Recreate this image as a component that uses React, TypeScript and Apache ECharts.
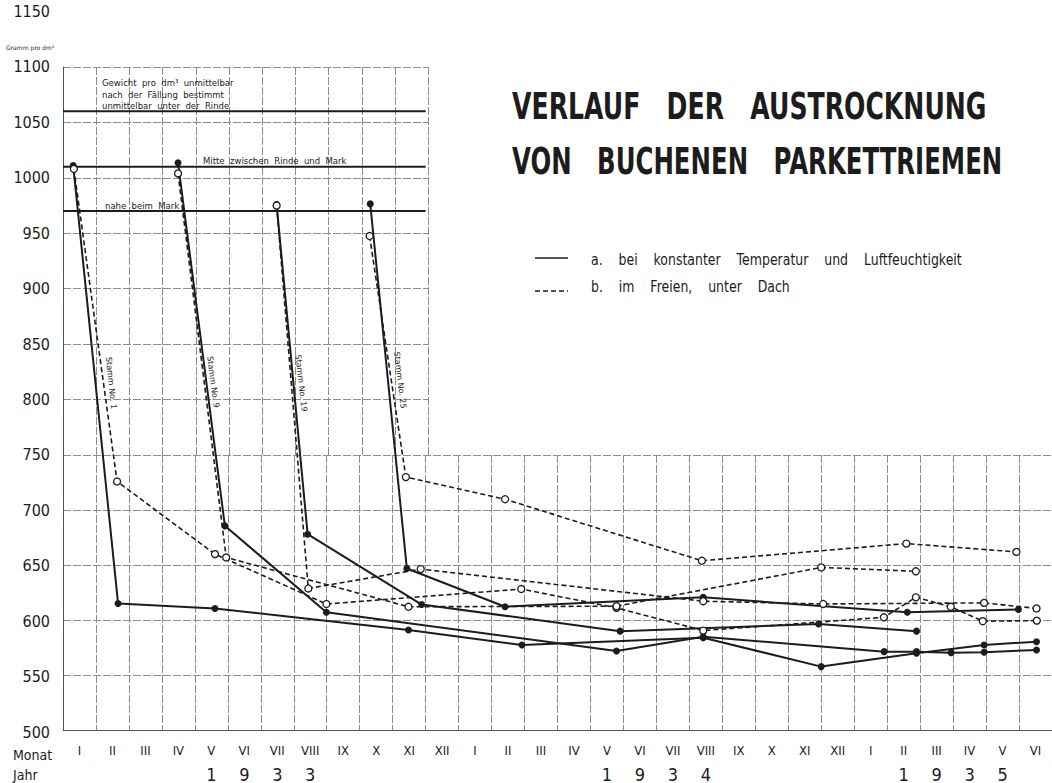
import React, { useEffect, useRef } from "react";
import * as echarts from "echarts";

// ---------- data ----------
const monthLabels = [
  "I", "II", "III", "IV", "V", "VI", "VII", "VIII", "IX", "X", "XI", "XII",
  "I", "II", "III", "IV", "V", "VI", "VII", "VIII", "IX", "X", "XI", "XII",
  "I", "II", "III", "IV", "V", "VI",
];
const yearDigits = [
  "", "", "", "", "1", "9", "3", "3", "", "", "", "",
  "", "", "", "", "1", "9", "3", "4", "", "", "", "",
  "", "1", "9", "3", "5", "",
];
const yTicks = { min: 500, max: 1150, step: 50 };
const refLevels = [1060, 1010, 970];

// x = months since start of Jan 1933, y = grams per dm³
// a. bei konstanter Temperatur und Luftfeuchtigkeit (solid)
const stamm1A = [[0.31, 1011], [1.67, 616], [4.61, 611.5], [10.48, 592], [13.92, 578.5], [19.42, 585], [23.0, 559], [25.89, 571], [27.94, 578.5], [29.53, 581.5]];
const stamm9A = [[3.49, 1013.5], [4.91, 686], [7.99, 608], [16.79, 573], [19.42, 586], [24.91, 572.5], [25.89, 572.5], [26.94, 571.6], [27.94, 572], [29.53, 574]];
const stamm19A = [[6.48, 976], [7.42, 678.5], [10.88, 615], [16.9, 591], [22.92, 597.5], [25.89, 591]];
const stamm25A = [[9.32, 976.5], [10.43, 647.5], [13.41, 613], [19.42, 621.5], [25.61, 608], [28.98, 610.5]];
// b. im Freien, unter Dach (dashed)
const stamm1B = [[0.33, 1008], [1.64, 726], [4.61, 660.5], [7.99, 615.5], [13.9, 629], [16.79, 612], [19.42, 591.5], [24.9, 603.5], [25.87, 621.5], [26.93, 613], [27.9, 600], [29.54, 600.5]];
const stamm9B = [[3.49, 1004], [4.95, 657.5], [10.48, 613], [16.79, 613.5], [23.0, 648.5], [25.87, 645]];
const stamm19B = [[6.48, 975], [7.44, 629.5], [10.85, 647], [19.42, 618], [23.06, 615.5], [27.94, 616.5], [29.53, 611.5]];
const stamm25B = [[9.3, 947.5], [10.4, 730], [13.41, 710], [19.38, 654.5], [25.58, 670], [28.92, 662.5]];

// ---------- styles ----------
const INK = "#1c1c1c";
const GRIDC = "#8c8c8c";
const NARROW = "'Liberation Sans Narrow', 'DejaVu Sans Condensed', 'Liberation Sans', sans-serif";
const SANS = "'DejaVu Sans', sans-serif";

const splitStyle = { color: GRIDC, width: 1, type: [8, 2] as any };

const solid = (name: string, data: number[][]) => ({
  type: "line", name, xAxisIndex: 0, yAxisIndex: 0, data,
  symbol: "circle", symbolSize: 7, z: 4,
  lineStyle: { color: INK, width: 2 },
  itemStyle: { color: INK },
});
const dashed = (name: string, data: number[][]) => ({
  type: "line", name, xAxisIndex: 0, yAxisIndex: 0, data,
  symbol: "circle", symbolSize: 7, z: 5,
  lineStyle: { color: INK, width: 1.6, type: [5, 3] },
  itemStyle: { color: "#fff", borderColor: INK, borderWidth: 1.3 },
});

const txt = (x: number, y: number, text: string, fontSize: number, extra: any = {}) => ({
  type: "text", x, y, z: 10, ...extra,
  style: {
    text, fill: INK, fontSize, fontFamily: extra.fontFamily || SANS,
    fontWeight: extra.fontWeight || "normal",
    textAlign: extra.align || "left", align: extra.align || "left",
    textVerticalAlign: "middle", verticalAlign: "middle",
  },
});

const option: any = {
  animation: false,
  backgroundColor: "#fff",
  grid: [
    { left: 63, top: 11.58, width: 996, height: 720.42 },
    { left: 63, top: 454.92, width: 996, height: 277.08 },
    { left: 63, top: 67, width: 365.2, height: 387.92 },
  ],
  xAxis: [
    { gridIndex: 0, type: "value", min: 0, max: 30, show: false },
    {
      gridIndex: 1, type: "category", data: monthLabels, boundaryGap: true,
      axisLine: { show: true, lineStyle: { color: "#555", width: 1 } },
      axisTick: { show: false },
      splitLine: { show: true, interval: 0, lineStyle: splitStyle },
      axisLabel: { interval: 0, margin: 14, color: INK, fontSize: 13, fontFamily: NARROW },
    },
    {
      gridIndex: 1, type: "category", data: monthLabels, boundaryGap: true, position: "bottom",
      axisLine: { show: false }, axisTick: { show: false }, splitLine: { show: false },
      axisLabel: {
        interval: 0, margin: 35, color: INK, fontSize: 18, fontFamily: NARROW,
        formatter: (_v: string, i: number) => yearDigits[i],
      },
    },
    {
      gridIndex: 2, type: "category", data: monthLabels.slice(0, 11), boundaryGap: true,
      axisLine: { show: false }, axisTick: { show: false }, axisLabel: { show: false },
      splitLine: { show: true, interval: 0, lineStyle: splitStyle },
    },
  ],
  yAxis: [
    {
      gridIndex: 0, type: "value", min: yTicks.min, max: yTicks.max, interval: yTicks.step,
      axisLine: { show: false }, axisTick: { show: false }, splitLine: { show: false },
      axisLabel: { margin: 13, color: INK, fontSize: 16, fontFamily: NARROW, formatter: (v: number) => String(v) },
    },
    {
      gridIndex: 1, type: "value", min: 500, max: 750, interval: 50,
      axisLine: { show: true, lineStyle: { color: "#555", width: 1 } }, axisTick: { show: false },
      axisLabel: { show: false }, splitLine: { show: true, lineStyle: splitStyle },
    },
    {
      gridIndex: 2, type: "value", min: 750, max: 1100, interval: 50,
      axisLine: { show: true, lineStyle: { color: "#555", width: 1 } }, axisTick: { show: false },
      axisLabel: { show: false }, splitLine: { show: true, lineStyle: splitStyle },
    },
  ],
  series: [
    ...refLevels.map((lv) => ({
      type: "line", xAxisIndex: 0, yAxisIndex: 0, data: [[0, lv], [11, lv]],
      symbol: "none", z: 3, lineStyle: { color: INK, width: 2 },
    })),
    solid("Stamm No. 1 a", stamm1A),
    solid("Stamm No. 9 a", stamm9A),
    solid("Stamm No. 19 a", stamm19A),
    solid("Stamm No. 25 a", stamm25A),
    dashed("Stamm No. 1 b", stamm1B),
    dashed("Stamm No. 9 b", stamm9B),
    dashed("Stamm No. 19 b", stamm19B),
    dashed("Stamm No. 25 b", stamm25B),
  ],
  graphic: [
    txt(6, 47.5, "Gramm pro dm³", 6),
    txt(102, 82.5, "Gewicht  pro  dm³  unmittelbar", 8.5),
    txt(102, 94.5, "nach  der  Fällung  bestimmt", 8.5),
    txt(102, 106, "unmittelbar  unter  der  Rinde", 8.5),
    txt(203, 160.5, "Mitte  zwischen  Rinde  und  Mark", 8.5),
    txt(105, 205.5, "nahe  beim  Mark", 8.5),
    txt(111, 383, "Stamm No. 1", 8, { align: "center", rotation: -1.47 }),
    txt(213, 382, "Stamm No. 9", 8, { align: "center", rotation: -1.44 }),
    txt(301, 383, "Stamm No. 19", 8, { align: "center", rotation: -1.46 }),
    txt(400, 380, "Stamm No. 25", 8, { align: "center", rotation: -1.45 }),
    txt(512, 106, "VERLAUF   DER   AUSTROCKNUNG", 37, { fontWeight: "bold", scaleX: 0.68 }),
    txt(512, 161, "VON   BUCHENEN   PARKETTRIEMEN", 37, { fontWeight: "bold", scaleX: 0.66 }),
    { type: "line", z: 10, shape: { x1: 535, y1: 258, x2: 568, y2: 258 }, style: { stroke: INK, lineWidth: 1.6 } },
    { type: "line", z: 10, shape: { x1: 535, y1: 291, x2: 568, y2: 291 }, style: { stroke: INK, lineWidth: 1.6, lineDash: [5, 3] } },
    txt(591, 260, "a.    bei    konstanter    Temperatur    und    Luftfeuchtigkeit", 15, { scaleX: 0.835 }),
    txt(591, 287, "b.    im    Freien,    unter    Dach", 15, { scaleX: 0.835 }),
    txt(13, 755, "Monat", 14, { fontFamily: NARROW }),
    txt(13, 775, "Jahr", 14, { fontFamily: NARROW }),
  ],
};

export default function App() {
  const ref = useRef<HTMLDivElement>(null);
  useEffect(() => {
    const chart = echarts.init(ref.current!, null, { renderer: "svg" });
    chart.setOption(option);
    return () => chart.dispose();
  }, []);
  return (
    <div
      ref={ref}
      style={{ position: "absolute", left: 0, top: 0, width: 1052, height: 783, background: "#fff", overflow: "hidden" }}
    />
  );
}
